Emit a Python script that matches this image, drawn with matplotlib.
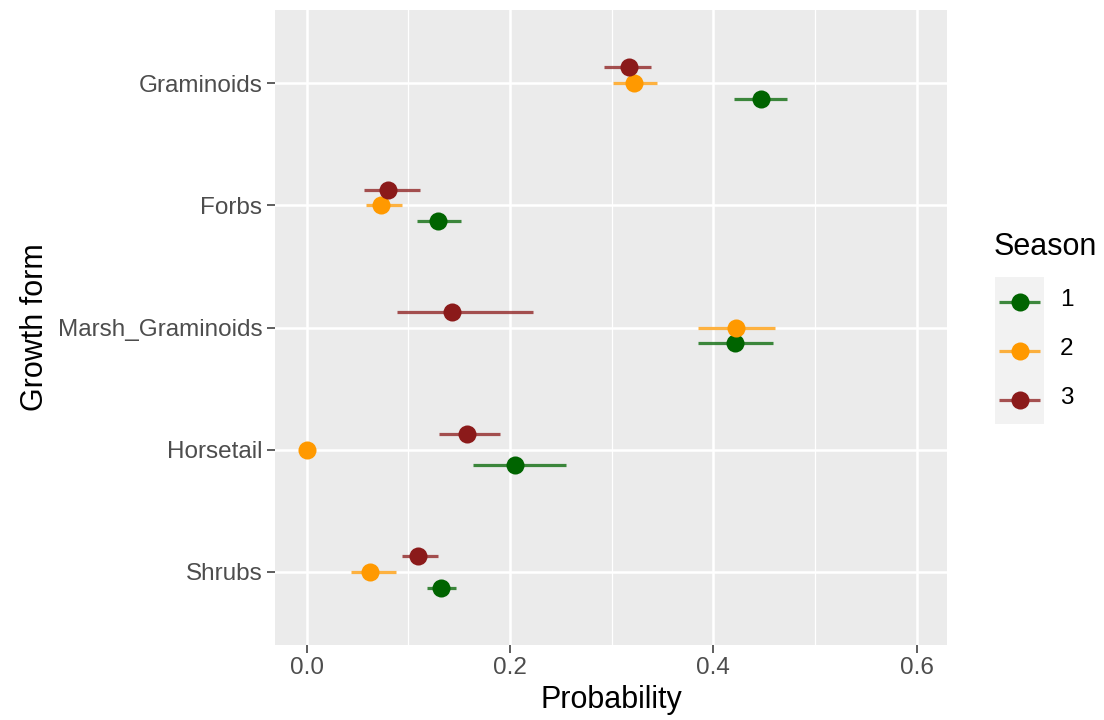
import matplotlib
matplotlib.use("Agg")
import matplotlib.pyplot as plt
from matplotlib.lines import Line2D

plt.rcParams['font.family'] = ['Liberation Sans', 'DejaVu Sans']

# growth forms, top to bottom
forms = ['Graminoids', 'Forbs', 'Marsh_Graminoids', 'Horsetail', 'Shrubs']
seasons = ['1', '2', '3']
colors = ['#006400', '#FF9900', '#8B1A1A']

# probability estimates per season (same order as forms)
prob_s1 = [0.447, 0.129, 0.421, 0.205, 0.132]
prob_s2 = [0.322, 0.073, 0.422, 0.000, 0.062]
prob_s3 = [0.317, 0.080, 0.143, 0.158, 0.110]

# lower / upper interval limits
low_s1 = [0.420, 0.109, 0.385, 0.164, 0.119]
high_s1 = [0.473, 0.152, 0.459, 0.255, 0.147]
low_s2 = [0.301, 0.059, 0.385, 0.000, 0.044]
high_s2 = [0.345, 0.094, 0.461, 0.000, 0.088]
low_s3 = [0.293, 0.057, 0.089, 0.130, 0.094]
high_s3 = [0.339, 0.112, 0.223, 0.190, 0.129]

probs = [prob_s1, prob_s2, prob_s3]
lows = [low_s1, low_s2, low_s3]
highs = [high_s1, high_s2, high_s3]

W, H = 1104, 720
fig = plt.figure(figsize=(W / 100, H / 100), dpi=100)
ax = fig.add_axes([275 / W, 1 - 645 / H, (947 - 275) / W, (645 - 10) / H])
ax.set_facecolor('#EBEBEB')
for s in ax.spines.values():
    s.set_visible(False)

ypos = [len(forms) - i for i in range(len(forms))]
offsets = [-0.13, 0.0, 0.13]

for k in range(3):
    ys = [y + offsets[k] for y in ypos]
    for i in range(len(forms)):
        ax.plot([lows[k][i], highs[k][i]], [ys[i], ys[i]], color=colors[k],
                lw=2.3, alpha=0.75, solid_capstyle='butt', zorder=3)
    ax.plot(probs[k], ys, 'o', color=colors[k], ms=13, mec='none', zorder=4)

ax.set_xlim(-0.031, 0.63)
ax.set_ylim(0.4, 5.6)
ax.set_xticks([0.0, 0.2, 0.4, 0.6])
ax.set_xticklabels(['0.0', '0.2', '0.4', '0.6'])
ax.set_xticks([0.1, 0.3, 0.5], minor=True)
ax.set_yticks(ypos)
ax.set_yticklabels(forms)
ax.grid(which='major', color='white', lw=1.8, zorder=0)
ax.grid(which='minor', axis='x', color='white', lw=0.9, zorder=0)
ax.set_axisbelow(True)
ax.tick_params(which='major', length=5.5, width=1.1, color='#333333',
               labelsize=17.5, labelcolor='#4D4D4D', pad=3.5)
ax.tick_params(which='minor', length=0)

ax.set_xlabel('Probability', fontsize=22, color='black', labelpad=4)
ax.set_ylabel('Growth form', fontsize=22, color='black', labelpad=6)

# legend
lax = fig.add_axes([995 / W, 1 - 424 / H, (1044 - 995) / W, (424 - 277) / H])
lax.set_facecolor('#F2F2F2')
for s in lax.spines.values():
    s.set_visible(False)
lax.set_xticks([])
lax.set_yticks([])
lax.set_xlim(0, 1)
lax.set_ylim(0, 3)
for k in range(3):
    yk = 2.5 - k
    lax.plot([0.08, 0.92], [yk, yk], color=colors[k], lw=2.3, alpha=0.75,
             solid_capstyle='butt')
    lax.plot([0.5], [yk], 'o', color=colors[k], ms=13, mec='none')
    fig.text(1060 / W, 1 - (300 + 49 * k) / H, seasons[k], fontsize=17.5,
             va='center', ha='left', color='black')
fig.text(994 / W, 1 - 247 / H, 'Season', fontsize=22, va='center', ha='left')

fig.savefig('out.png', dpi=100)
